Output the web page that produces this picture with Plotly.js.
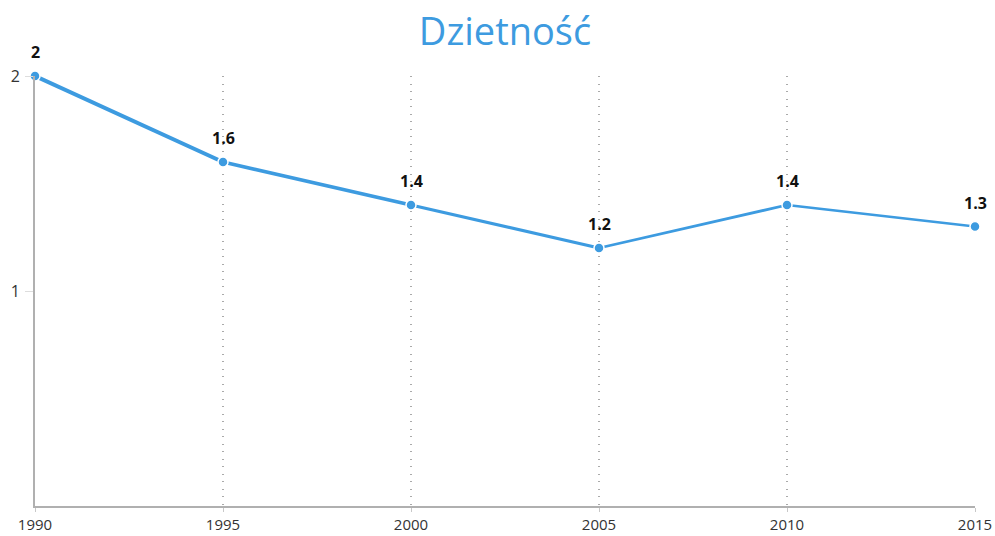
<!DOCTYPE html>
<html>
<head>
<meta charset="utf-8">
<script src="https://cdn.plot.ly/plotly-3.0.1.min.js"></script>
<style>html,body{margin:0;padding:0;background:#fff;}#chart{width:995px;height:536px;}</style>
</head>
<body>
<div id="chart"></div>
<script>
var years = [1990, 1995, 2000, 2005, 2010, 2015];
var fertility = [2, 1.6, 1.4, 1.2, 1.4, 1.3];
var labels = ['2', '1.6', '1.4', '1.2', '1.4', '1.3'];
var xTickVals = [1990, 1995, 2000, 2005, 2010, 2015];
var yTickVals = [1, 2];

var lineColor = '#3d9be0';
var traces = [];
var widths = [4, 3.6, 3.2, 2.8, 2.4];
for (var i = 0; i < years.length - 1; i++) {
  traces.push({
    x: [years[i], years[i + 1]],
    y: [fertility[i], fertility[i + 1]],
    mode: 'lines',
    type: 'scatter',
    line: {color: lineColor, width: widths[i]},
    hoverinfo: 'skip',
    showlegend: false,
    cliponaxis: false
  });
}
traces.push({
  x: years,
  y: fertility,
  mode: 'markers',
  type: 'scatter',
  marker: {color: lineColor, size: 10, line: {color: '#fff', width: 1.5}},
  showlegend: false,
  cliponaxis: false
});

var annotations = years.map(function (yr, i) {
  return {
    x: yr, y: fertility[i], xref: 'x', yref: 'y',
    text: '<b>' + labels[i] + '</b>', showarrow: false,
    yshift: 24,
    font: {family: 'Open Sans', size: 16, color: '#111'}
  };
});

var layout = {
  width: 995, height: 536,
  margin: {l: 35, r: 20, t: 76, b: 30},
  paper_bgcolor: '#fff', plot_bgcolor: '#fff',
  font: {family: 'Open Sans', color: '#333'},
  title: {
    text: 'Dzietność',
    font: {family: 'Open Sans', size: 38, color: '#3d9be0'},
    x: 0.5, xref: 'paper', y: 0.94, yref: 'container', yanchor: 'middle'
  },
  xaxis: {
    range: [1990, 2015],
    tickvals: xTickVals,
    ticktext: xTickVals.map(String),
    showgrid: true, gridcolor: '#aaaaaa', griddash: '1px,6.5px', gridwidth: 2,
    showline: true, linecolor: '#b0b0b0', linewidth: 2,
    ticks: 'outside', ticklen: 4, tickcolor: '#c8c8c8', tickwidth: 1,
    ticklabelstandoff: 0,
    zeroline: false,
    tickfont: {family: 'Open Sans', size: 15, color: '#333'},
    fixedrange: true
  },
  yaxis: {
    range: [0, 2],
    tickvals: yTickVals,
    showgrid: false,
    showline: true, linecolor: '#b0b0b0', linewidth: 2,
    ticks: 'outside', ticklen: 8, tickcolor: '#dddddd', tickwidth: 1,
    ticklabelstandoff: 2,
    zeroline: false,
    tickfont: {family: 'Open Sans', size: 16, color: '#333'},
    fixedrange: true
  },
  annotations: annotations
};

Plotly.newPlot('chart', traces, layout, {displayModeBar: false, staticPlot: true});
</script>
</body>
</html>
